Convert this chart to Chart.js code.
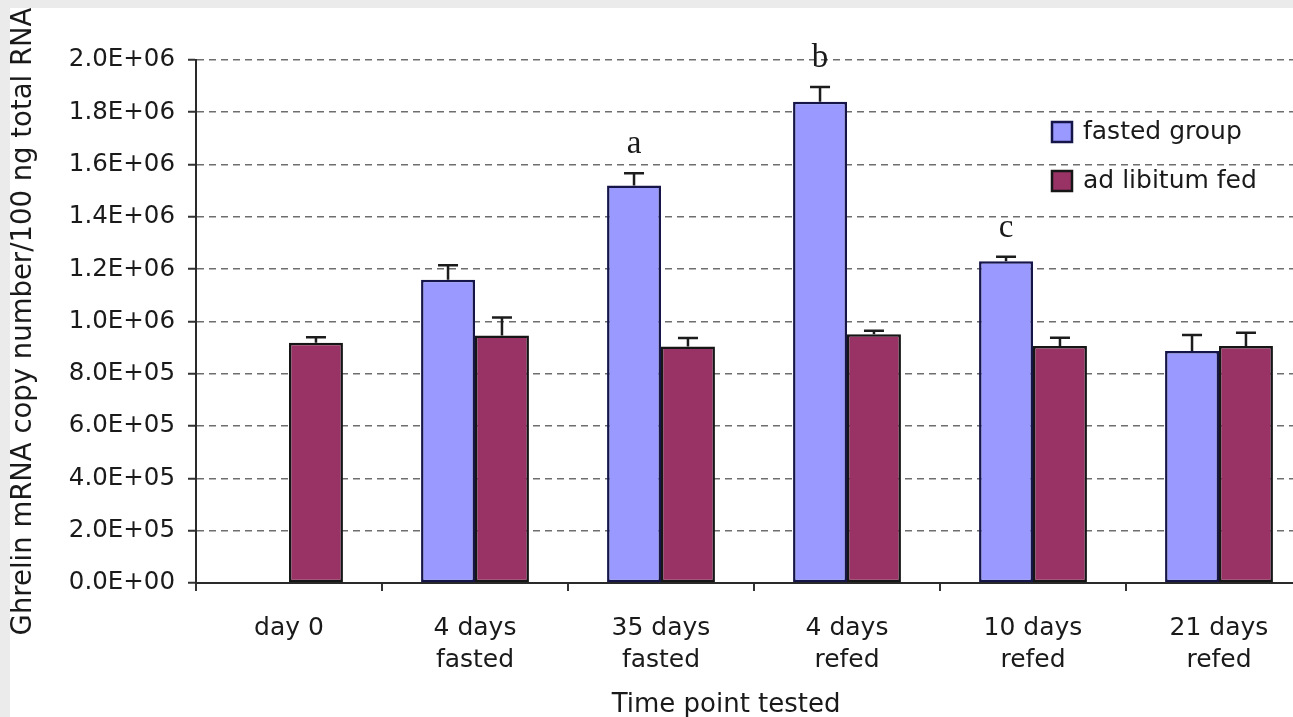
<!DOCTYPE html>
<html>
<head>
<meta charset="utf-8">
<script src="https://cdn.jsdelivr.net/npm/chart.js@4/dist/chart.umd.min.js"></script>
<style>
  html, body { margin: 0; padding: 0; overflow: hidden; background: #ebebeb; width: 1293px; height: 717px; }
  #wrap { position: absolute; left: 10px; top: 8px; width: 1310px; height: 709px; background: #ffffff; }
  canvas { display: block; }
</style>
</head>
<body>
<div id="wrap"><canvas id="c" width="1310" height="709"></canvas></div>
<script>
// Time points and group labels
const categories = [
  'day 0',
  ['4 days', 'fasted'],
  ['35 days', 'fasted'],
  ['4 days', 'refed'],
  ['10 days', 'refed'],
  ['21 days', 'refed']
];
const seriesNames = ['fasted group', 'ad libitum fed'];

// Mean ghrelin mRNA copy number / 100 ng total RNA
const fastedMeans = [null, 1.16e6, 1.52e6, 1.84e6, 1.23e6, 8.87e5];
const fastedErrors = [null, 5.5e4, 4.7e4, 5.7e4, 1.8e4, 6.1e4];
const fedMeans = [9.19e5, 9.46e5, 9.04e5, 9.51e5, 9.06e5, 9.06e5];
const fedErrors = [2.1e4, 6.9e4, 3.3e4, 1.4e4, 3.2e4, 5.1e4];

// Significance letters over the fasted bars
const fastedLetters = ['', '', 'a', 'b', 'c', ''];

// Y axis range
const yMin = 0;
const yMax = 2.0e6;
const yStep = 2.0e5;

const xTitle = 'Time point tested';
const yTitle = 'Ghrelin mRNA copy number/100 ng total RNA';

const SANS = '"DejaVu Sans", sans-serif';
const SERIF = '"Liberation Serif", "DejaVu Serif", serif';
const INK = '#1a1a1a';

function sciLabel(v) {
  const parts = Number(v).toExponential(1).split('e');
  const exp = parseInt(parts[1], 10);
  return parts[0] + 'E' + (exp < 0 ? '-' : '+') + String(Math.abs(exp)).padStart(2, '0');
}

const errorSets = [fastedErrors, fedErrors];

// Upward error bars with a short cap
const errorBars = {
  id: 'errorBars',
  afterDatasetsDraw(chart) {
    const ctx = chart.ctx;
    const y = chart.scales.y;
    ctx.save();
    ctx.strokeStyle = '#1c1c1c';
    ctx.lineWidth = 2.5;
    chart.data.datasets.forEach((ds, i) => {
      const meta = chart.getDatasetMeta(i);
      meta.data.forEach((bar, j) => {
        const v = ds.data[j];
        const e = errorSets[i][j];
        if (v == null || e == null) return;
        const top = y.getPixelForValue(v + e);
        ctx.beginPath();
        ctx.moveTo(bar.x, bar.y);
        ctx.lineTo(bar.x, top);
        ctx.moveTo(bar.x - 10, top);
        ctx.lineTo(bar.x + 10, top);
        ctx.stroke();
      });
    });
    ctx.restore();
  }
};

// Letters above the fasted bars
const letterMarks = {
  id: 'letterMarks',
  afterDatasetsDraw(chart) {
    const ctx = chart.ctx;
    const y = chart.scales.y;
    const meta = chart.getDatasetMeta(0);
    ctx.save();
    ctx.font = '33px ' + SERIF;
    ctx.fillStyle = INK;
    ctx.textAlign = 'center';
    ctx.textBaseline = 'alphabetic';
    fastedLetters.forEach((t, j) => {
      if (!t) return;
      const v = fastedMeans[j] + fastedErrors[j];
      ctx.fillText(t, meta.data[j].x, y.getPixelForValue(v) - 20);
    });
    ctx.restore();
  }
};

// Legend boxes inside the plot, upper right
const boxLegend = {
  id: 'boxLegend',
  afterDraw(chart) {
    const ctx = chart.ctx;
    ctx.save();
    ctx.font = '25px ' + SANS;
    ctx.textBaseline = 'middle';
    ctx.textAlign = 'left';
    chart.data.datasets.forEach((ds, i) => {
      const cy = 124 + i * 49;
      ctx.fillStyle = ds.backgroundColor;
      ctx.fillRect(1042, cy - 10, 20, 20);
      ctx.lineWidth = 2.5;
      ctx.strokeStyle = ds.borderColor;
      ctx.strokeRect(1042, cy - 10, 20, 20);
      ctx.fillStyle = INK;
      ctx.fillText(ds.label, 1073, cy);
    });
    ctx.restore();
  }
};

// X axis title
const xAxisTitle = {
  id: 'xAxisTitle',
  afterDraw(chart) {
    const ctx = chart.ctx;
    const a = chart.chartArea;
    ctx.save();
    ctx.font = '26px ' + SANS;
    ctx.fillStyle = INK;
    ctx.textAlign = 'center';
    ctx.textBaseline = 'middle';
    ctx.fillText(xTitle, a.left + 0.475 * (a.right - a.left), 697);
    ctx.restore();
  }
};

new Chart(document.getElementById('c'), {
  type: 'bar',
  data: {
    labels: categories,
    datasets: [
      {
        label: seriesNames[0],
        data: fastedMeans,
        backgroundColor: '#9999ff',
        borderColor: '#15154a',
        borderWidth: 2.5,
        borderSkipped: false
      },
      {
        label: seriesNames[1],
        data: fedMeans,
        backgroundColor: '#993366',
        borderColor: '#161616',
        borderWidth: 2.5,
        borderSkipped: false
      }
    ]
  },
  options: {
    responsive: false,
    animation: false,
    devicePixelRatio: 1,
    layout: { padding: { left: 0, top: 52, right: 8, bottom: 0 } },
    datasets: { bar: { categoryPercentage: 0.58, barPercentage: 1.0 } },
    plugins: {
      legend: { display: false },
      tooltip: { enabled: false },
      title: { display: false }
    },
    scales: {
      x: {
        offset: true,
        grid: {
          offset: true,
          drawOnChartArea: false,
          drawTicks: true,
          tickLength: 8,
          color: '#333',
          lineWidth: 2
        },
        border: { display: true, color: '#2a2a2a', width: 2 },
        ticks: {
          autoSkip: false,
          maxRotation: 0,
          minRotation: 0,
          padding: 21,
          color: INK,
          font: { family: SANS, size: 25, lineHeight: 1.3 }
        },
        afterFit(scale) { scale.height = 134; }
      },
      y: {
        min: yMin,
        max: yMax,
        grid: {
          color: '#6e6e6e',
          lineWidth: 1.6,
          drawTicks: true,
          tickLength: 8,
          tickColor: '#333',
          tickWidth: 2,
          tickBorderDash: [1, 0]
        },
        border: { display: true, color: '#2a2a2a', width: 2, dash: [7, 5] },
        ticks: {
          stepSize: yStep,
          padding: 13,
          color: INK,
          font: { family: SANS, size: 24.5 },
          callback: (v) => sciLabel(v)
        },
        title: {
          display: true,
          text: yTitle,
          color: INK,
          padding: 0,
          font: { family: SANS, size: 27.5, lineHeight: 1.0 }
        },
        afterFit(scale) { scale.width = 186; }
      }
    }
  },
  plugins: [errorBars, letterMarks, boxLegend, xAxisTitle]
});
</script>
</body>
</html>
